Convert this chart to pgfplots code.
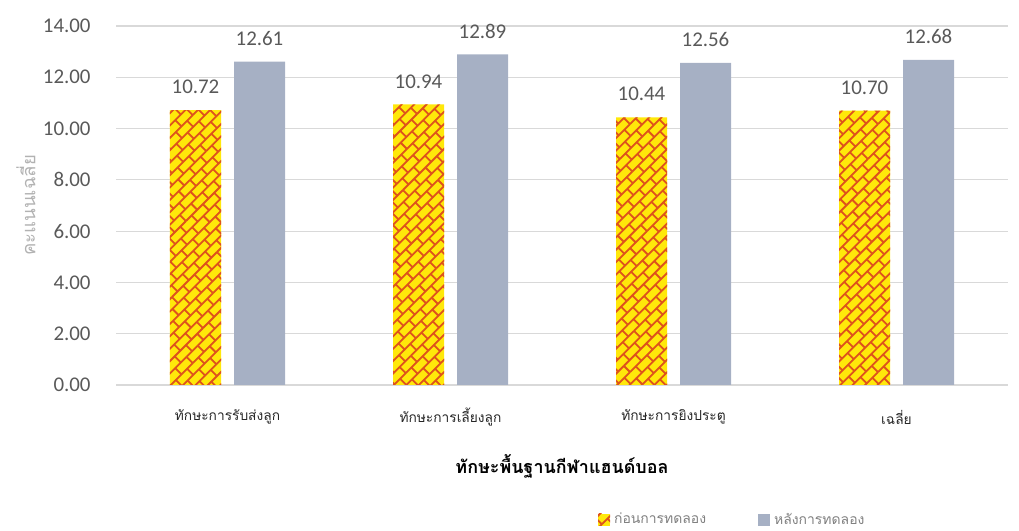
\documentclass[border=0pt]{standalone}
\usepackage{pgfplots}
\pgfplotsset{compat=1.18}
\usepackage{fontspec}
\setmainfont{Carlito}
\newfontfamily\thaifont[Script=Thai]{Loma}
\usetikzlibrary{patterns.meta}
\definecolor{ybar}{RGB}{255,232,10}
\definecolor{brick}{RGB}{222,82,28}
\definecolor{gbar}{RGB}{166,176,196}
\definecolor{txt}{RGB}{89,89,89}
\pgfdeclarepattern{
  name=diagbrick,
  type=uncolored,
  bottom left={\pgfpoint{-0.1pt}{-0.1pt}},
  top right={\pgfpoint{8.1pt}{8.9pt}},
  tile size={\pgfpoint{8pt}{8.8pt}},
  tile transformation={\pgftransformrotate{45}},
  code={
    \pgfsetlinewidth{0.9pt}
    \pgfpathmoveto{\pgfpoint{0pt}{0pt}}\pgfpathlineto{\pgfpoint{8pt}{0pt}}
    \pgfpathmoveto{\pgfpoint{0pt}{4.4pt}}\pgfpathlineto{\pgfpoint{8pt}{4.4pt}}
    \pgfpathmoveto{\pgfpoint{0pt}{8.8pt}}\pgfpathlineto{\pgfpoint{8pt}{8.8pt}}
    \pgfpathmoveto{\pgfpoint{0pt}{0pt}}\pgfpathlineto{\pgfpoint{0pt}{4.4pt}}
    \pgfpathmoveto{\pgfpoint{8pt}{0pt}}\pgfpathlineto{\pgfpoint{8pt}{4.4pt}}
    \pgfpathmoveto{\pgfpoint{4pt}{4.4pt}}\pgfpathlineto{\pgfpoint{4pt}{8.8pt}}
    \pgfusepath{stroke}
  }
}
\begin{document}
\begin{tikzpicture}
\path[use as bounding box] (0,0) rectangle (509.5bp,265.5bp);
\begin{axis}[
  at={(58bp,73bp)}, anchor=south west,
  width=446bp, height=179.5bp, scale only axis,
  ybar=6.5bp, bar width=25.5bp,
  xmin=-0.5, xmax=3.5, ymin=0, ymax=14,
  ytick={0,2,...,14},
  xtick=data,
  xticklabels={ทักษะการรับส่งลูก,ทักษะการเลี้ยงลูก,ทักษะการยิงประตู,เฉลี่ย},
  xticklabel style={font=\thaifont\fontsize{6.9}{8}\selectfont, text=black!85, anchor=center, yshift=-16bp},
  yticklabel style={font=\fontsize{10.5}{12}\selectfont, text=txt, anchor=east, inner sep=0pt, xshift=-12.5bp},
  /pgf/number format/assume math mode=true,
  yticklabel={\pgfmathprintnumber[fixed,fixed zerofill,precision=2]{\tick}},
  axis line style={draw=none},
  major tick length=0pt,
  ymajorgrids, grid style={draw=gray!30, line width=0.6pt},
  xlabel={\thaifont\bfseries ทักษะพื้นฐานกีฬาแฮนด์บอล},
  every axis x label/.style={at={(axis description cs:0.5,0)}, yshift=-40.5bp, anchor=center, font=\fontsize{9}{11}\selectfont},
  ylabel={\thaifont คะแนนเฉลี่ย},
  every axis y label/.style={at={(axis description cs:0,0.5)}, xshift=-45bp, rotate=90, anchor=center, text=gray!60, font=\fontsize{9.3}{11}\selectfont},
  nodes near coords,
  nodes near coords style={font=\fontsize{10.5}{12}\selectfont, text=txt, anchor=center, yshift=11.5bp,
    /pgf/number format/.cd, fixed, fixed zerofill, precision=2},
  legend style={at={(0.692,-0.376)}, anchor=center, legend columns=2, draw=none,
    font=\thaifont\fontsize{7}{8}\selectfont, text=gray,
    /tikz/every even column/.append style={column sep=24bp}},
  legend image code/.code={\fill[#1] (0bp,-3bp) rectangle (6bp,3bp);},
]
\addplot[draw=none, fill=ybar, postaction={pattern=diagbrick, pattern color=brick}] coordinates {(0,10.72) (1,10.94) (2,10.44) (3,10.70)};
\addplot[draw=none, fill=gbar] coordinates {(0,12.61) (1,12.89) (2,12.56) (3,12.68)};
\legend{ก่อนการทดลอง,หลังการทดลอง}
\end{axis}
\end{tikzpicture}
\end{document}
